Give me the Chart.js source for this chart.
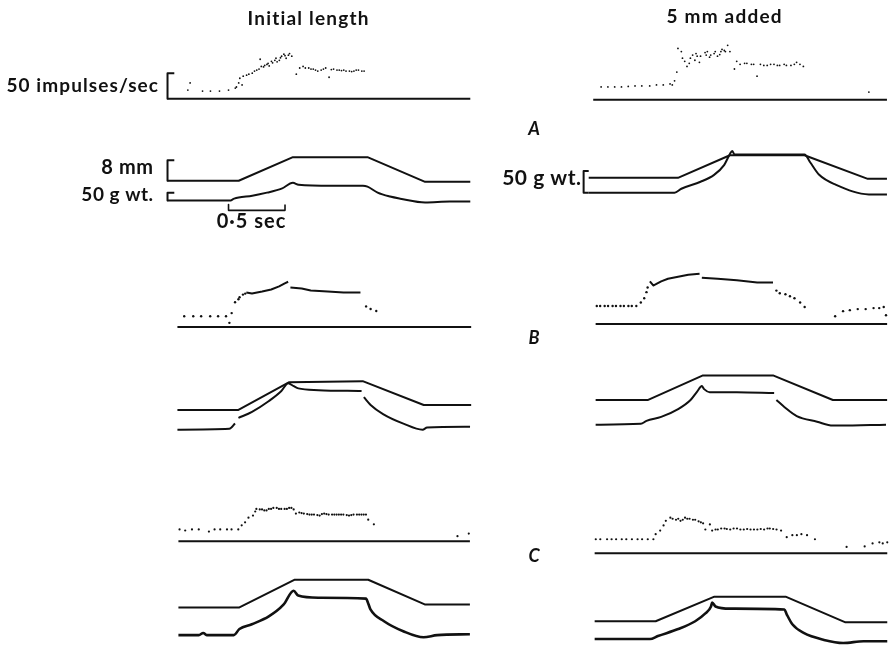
<!DOCTYPE html>
<html>
<head>
<meta charset="utf-8">
<title>Spindle discharge during stretch</title>
<script src="https://cdn.jsdelivr.net/npm/chart.js@4.4.1/dist/chart.umd.min.js"></script>
<style>
  html, body { margin: 0; padding: 0; background: #fff; overflow: hidden; }
  #wrap { position: relative; width: 891px; height: 648px; }
</style>
</head>
<body>
<div id="wrap"><canvas id="records" width="891" height="648"></canvas></div>
<script>
// Each record: [time (s), value]. Discharge in impulses/sec, length in mm,
// tension in g wt. Time runs from the start of each record.

// A, initial length
const aInitRate = [
  [0.18,17],[0.20,31],[0.31,15],[0.38,15],[0.46,15],[0.54,17],[0.60,21],[0.61,23],[0.63,31],[0.64,40],
  [0.66,27],[0.67,44],[0.70,46],[0.72,48],[0.75,50],[0.77,54],[0.79,56],[0.81,58],[0.82,77],[0.83,63],
  [0.85,62],[0.86,65],[0.88,67],[0.89,69],[0.90,64],[0.92,73],[0.93,70],[0.95,75],[0.96,79],[0.97,72],
  [0.99,75],[1.00,80],[1.01,83],[1.03,87],[1.04,84],[1.05,79],[1.07,85],[1.08,88],[1.10,83],
  [1.14,48],[1.17,60],[1.20,63],[1.22,60],[1.25,60],[1.27,58],[1.29,58],[1.31,56],[1.33,54],[1.36,56],
  [1.38,58],[1.40,60],[1.43,42],[1.45,57],[1.47,58],[1.50,56],[1.52,56],[1.54,55],[1.56,56],[1.58,54],
  [1.61,54],[1.63,53],[1.65,54],[1.67,56],[1.69,56],[1.72,54],[1.74,54]
];
const aInitBase = [[0,0],[2.68,0]];
const aInitLength = [[0,0],[0.63,0],[1.11,9.2],[1.77,9.2],[2.28,-0.4],[2.68,-0.4]];
const aInitTension = [
  [0,0],[0.55,0],[0.59,12],[0.63,19],[0.75,31],[0.88,50],[1.01,75],[1.11,112],[1.16,100],[1.45,94],
  [1.73,94],[1.77,88],[1.86,50],[1.97,25],[2.06,12],[2.28,-12],[2.50,-6],[2.68,-6]
];

// A, 5 mm added
const aAddRate = [
  [0.11,25],[0.17,25],[0.23,25],[0.29,25],[0.35,26],[0.41,27],[0.47,27],[0.54,27],[0.60,29],[0.66,29],
  [0.72,31],[0.74,29],[0.76,37],[0.78,54],[0.79,100],[0.82,94],[0.83,81],[0.85,75],[0.87,65],[0.89,71],
  [0.90,81],[0.92,87],[0.94,77],[0.95,90],[0.96,85],[0.98,73],[0.99,85],[1.03,92],[1.04,87],[1.05,94],
  [1.07,83],[1.08,87],[1.11,90],[1.12,94],[1.14,85],[1.16,88],[1.17,94],[1.18,98],[1.20,96],[1.21,94],
  [1.23,106],[1.25,94],
  [1.29,60],[1.31,75],[1.34,69],[1.38,71],[1.40,71],[1.44,69],[1.46,69],[1.49,46],[1.52,69],[1.55,67],
  [1.58,67],[1.61,69],[1.64,69],[1.67,67],[1.69,67],[1.73,69],[1.75,67],[1.79,67],[1.82,69],[1.84,73],
  [1.87,69],[1.90,65],
  [2.48,15]
];
const aAddBase = [[0.04,0],[2.64,0]];
const aAddLength = [[0,0],[0.79,0],[1.25,8.8],[1.91,8.8],[2.47,-0.4],[2.64,-0.4]];
const aAddTension = [
  [0,0],[0.76,0],[0.82,9],[0.99,25],[1.11,41],[1.20,64],[1.25,89],[1.27,96],[1.29,88],[1.91,88],
  [1.96,70],[2.04,41],[2.19,18],[2.48,-4],[2.64,-4]
];

// B, initial length
const bInitRate = [
  [0.06,21],[0.14,21],[0.21,21],[0.29,21],[0.36,21],[0.43,21],[0.46,8],[0.48,27],[0.51,48],[0.54,54],
  [0.55,58],[0.58,63],[0.60,65],[1.67,40],[1.71,35],[1.76,31]
];
const bInitRun = [
  [0.61,67],[0.66,65],[0.75,69],[0.83,73],[0.90,79],[0.95,85],[0.98,88],[0.99,null],[1.00,77],[1.10,75],
  [1.18,71],[1.33,69],[1.47,67],[1.62,67]
];
const bInitBase = [[0,0],[2.60,0]];
const bInitLength = [[0,0],[0.54,0],[0.99,10.8],[1.64,11.2],[2.18,1.9],[2.60,1.9]];
const bInitTension = [
  [0,0],[0.46,2],[0.51,14],[0.52,null],[0.54,27],[0.66,41],[0.81,66],[0.92,89],[0.98,107],[1.03,100],
  [1.07,95],[1.25,91],[1.63,89],[1.64,null],[1.65,75],[1.71,57],[1.82,36],[2.00,14],[2.17,0],[2.21,5],
  [2.59,7]
];

// B, 5 mm added
const bAddRate = [
  [0.01,35],[0.04,35],[0.08,35],[0.11,35],[0.15,35],[0.18,35],[0.22,35],[0.25,35],[0.29,35],[0.32,35],
  [0.36,35],[0.40,42],[0.43,50],[0.45,62],[0.46,71],[1.60,65],[1.63,60],[1.68,58],[1.72,54],[1.76,50],
  [1.81,42],[1.85,33],[2.12,15],[2.19,25],[2.25,27],[2.32,29],[2.39,29],[2.46,31],[2.51,31],[2.55,33],
  [2.57,17]
];
const bAddRun = [
  [0.48,83],[0.51,75],[0.53,77],[0.58,83],[0.64,88],[0.73,92],[0.82,96],[0.92,98],[0.93,null],[0.94,90],
  [1.08,88],[1.25,85],[1.43,81],[1.57,81]
];
const bAddBase = [[0,0],[2.58,0]];
const bAddLength = [[0,0],[0.46,0],[0.95,9.6],[1.57,9.6],[2.10,0],[2.58,0]];
const bAddTension = [
  [0,0],[0.40,2],[0.45,9],[0.58,18],[0.73,36],[0.84,57],[0.90,77],[0.94,89],[0.96,82],[1.01,75],
  [1.25,75],[1.58,73],[1.59,null],[1.60,57],[1.67,41],[1.78,20],[1.96,7],[2.10,-2],[2.16,-2],[2.57,0]
];

// C, initial length
const cInitRate = [
  [0.01,23],[0.06,21],[0.12,23],[0.18,23],[0.27,19],[0.32,23],[0.37,23],[0.43,23],[0.47,23],[0.53,23],
  [0.56,31],[0.59,37],[0.62,46],[0.66,50],[0.68,58],
  [0.69,63],[0.72,62],[0.74,62],[0.76,60],[0.78,60],[0.80,63],[0.82,63],[0.84,65],[0.87,65],[0.89,63],
  [0.91,63],[0.94,63],[0.96,63],[0.98,65],[1.00,65],[1.02,62],
  [1.04,54],[1.07,56],[1.09,55],[1.11,54],[1.14,53],[1.16,52],[1.18,52],[1.20,52],[1.23,51],[1.25,50],
  [1.27,53],[1.29,54],[1.31,53],[1.33,52],[1.36,52],[1.38,52],[1.40,52],[1.42,52],[1.44,52],[1.46,52],
  [1.49,51],[1.51,50],[1.53,51],[1.55,52],[1.58,52],[1.60,52],[1.62,52],[1.64,52],[1.66,52],
  [1.68,42],[1.73,33],[2.47,10],[2.57,15]
];
const cInitBase = [[0,0],[2.58,0]];
const cInitLength = [[0,0],[0.54,0],[1.03,10.8],[1.68,10.8],[2.18,1.2],[2.58,1.2]];
const cInitTension = [
  [0,0],[0.18,0],[0.22,5],[0.25,0],[0.49,0],[0.54,14],[0.65,25],[0.80,43],[0.93,70],[1.02,102],
  [1.06,91],[1.24,86],[1.66,84],[1.68,73],[1.70,59],[1.82,32],[1.99,9],[2.17,-5],[2.29,0],[2.58,2]
];

// C, 5 mm added
const cAddRate = [
  [0.01,27],[0.05,27],[0.11,27],[0.15,27],[0.19,27],[0.24,27],[0.28,27],[0.33,27],[0.38,27],[0.42,27],
  [0.47,27],[0.52,27],[0.54,37],[0.58,44],[0.61,54],[0.63,63],[0.67,69],[0.69,67],[0.72,65],[0.74,67],
  [0.76,63],[0.78,65],[0.80,69],[0.82,67],[0.84,67],[0.87,65],[0.89,65],[0.92,62],[0.94,60],[0.96,58],
  [0.98,46],[1.02,56],[1.04,44],[1.07,46],[1.09,46],[1.12,48],[1.15,48],[1.17,47],[1.20,46],[1.23,48],
  [1.26,48],[1.29,46],[1.32,46],[1.35,47],[1.38,46],[1.41,46],[1.44,46],[1.47,47],[1.50,46],[1.53,48],
  [1.55,48],[1.58,47],[1.61,46],[1.65,44],[1.70,31],[1.75,35],[1.79,35],[1.83,37],[1.88,35],[1.95,27],
  [2.23,12],[2.39,13],[2.46,19],[2.52,21],[2.55,19],[2.59,21]
];
const cAddBase = [[0,0],[2.59,0]];
const cAddLength = [[0,0],[0.54,0],[1.06,9.6],[1.69,9.6],[2.22,-0.4],[2.59,-0.4]];
const cAddTension = [
  [0,0],[0.49,0],[0.56,7],[0.74,23],[0.89,41],[0.98,59],[1.03,75],[1.04,84],[1.07,75],[1.20,70],
  [1.68,68],[1.70,57],[1.75,34],[1.85,14],[2.03,-2],[2.20,-9],[2.38,-5],[2.59,-5]
];

// calibration marks: 50 impulses/sec, 8 mm, 50 g wt., 0.5 sec
const calRate = [[0.06,50],[0,50],[0,0]];
const calLength = [[0.06,8],[0,8],[0,0]];
const calTension = [[0.06,50],[0,50],[0,0]];
const calTensionAdded = [[0,50],[-0.045,50],[-0.045,0],[0,0]];
const calTime = [[0.54,-25],[0.54,-62],[1.04,-62],[1.04,-25]];

// ---- layout ----
const W = 891, H = 648;
const INK = '#111';
const PX_PER_SEC = 114;
const PX_PER_IMP = 0.52;
const PX_PER_MM = 2.6;

const panels = [
  { key: 'aInit', left: 165, rateY: 96,  lengthY: 179, tensionY: 199, gPx: 0.16,
    rate: aInitRate, base: aInitBase, length: aInitLength, tension: aInitTension, dot: 0.9,
    cal: { rate: calRate, length: calLength, tension: calTension, time: calTime } },
  { key: 'aAdd',  left: 590, rateY: 97,  lengthY: 176, tensionY: 191, gPx: 0.44,
    rate: aAddRate, base: aAddBase, length: aAddLength, tension: aAddTension, dot: 0.9,
    cal: { tension: calTensionAdded } },
  { key: 'bInit', left: 175, rateY: 327, lengthY: 411, tensionY: 431, gPx: 0.44,
    rate: bInitRate, run: bInitRun, base: bInitBase, length: bInitLength, tension: bInitTension, dot: 1.2 },
  { key: 'bAdd',  left: 597, rateY: 324, lengthY: 401, tensionY: 426, gPx: 0.44,
    rate: bAddRate, run: bAddRun, base: bAddBase, length: bAddLength, tension: bAddTension, dot: 1.2 },
  { key: 'cInit', left: 176, rateY: 544, lengthY: 611, tensionY: 639, gPx: 0.44,
    rate: cInitRate, base: cInitBase, length: cInitLength, tension: cInitTension, dot: 1.1, heavy: true },
  { key: 'cAdd',  left: 596, rateY: 556, lengthY: 625, tensionY: 643, gPx: 0.44,
    rate: cAddRate, base: cAddBase, length: cAddLength, tension: cAddTension, dot: 1.1, heavy: true }
];

const FONT = '"Lato", "Open Sans", sans-serif';
const labels = [
  { text: 'Initial length', x: 308, y: 25, align: 'center', size: 19, spacing: 1.2 },
  { text: '5 mm added', x: 724, y: 23, align: 'center', size: 19, spacing: 1.2 },
  { text: '50 impulses/sec', x: 158, y: 92, align: 'right', size: 19, spacing: 1.1 },
  { text: '8 mm', x: 153, y: 174, align: 'right', size: 20, spacing: 0.6 },
  { text: '50 g wt.', x: 153, y: 201, align: 'right', size: 19, spacing: 0.5 },
  { text: '0·5 sec', x: 251, y: 228, align: 'center', size: 20, spacing: 1 },
  { text: '50 g wt.', x: 581, y: 185, align: 'right', size: 21, spacing: 0.5 },
  { text: 'A', x: 534, y: 135, align: 'center', size: 18, spacing: 0, italic: true },
  { text: 'B', x: 534, y: 344, align: 'center', size: 18, spacing: 0, italic: true },
  { text: 'C', x: 534, y: 562, align: 'center', size: 18, spacing: 0, italic: true }
];

// a hidden linear axis whose zero sits at pixel `zero` with `gain` px per unit
function vAxis(zero, gain) {
  return { type: 'linear', axis: 'y', position: 'left', display: false,
           min: -(H - zero) / gain, max: zero / gain };
}
function hAxis(left) {
  return { type: 'linear', axis: 'x', position: 'bottom', display: false,
           min: -left / PX_PER_SEC, max: (W - left) / PX_PER_SEC };
}

const toXY = arr => arr.map(([x, y]) => ({ x, y }));

function line(data, xID, yID, width, smooth) {
  return {
    data: toXY(data), xAxisID: xID, yAxisID: yID, showLine: true,
    borderColor: INK, borderWidth: width, pointRadius: 0, fill: false,
    clip: false, spanGaps: false, tension: 0,
    cubicInterpolationMode: smooth ? 'monotone' : 'default',
    borderCapStyle: 'butt', borderJoinStyle: 'round'
  };
}
function dots(data, xID, yID, r) {
  return {
    data: toXY(data), xAxisID: xID, yAxisID: yID, showLine: false,
    pointRadius: r, pointBackgroundColor: INK, pointBorderWidth: 0, clip: false
  };
}

const scales = {};
const datasets = [];
for (const p of panels) {
  const x = p.key + 'X', yr = p.key + 'Rate', yl = p.key + 'Len', yt = p.key + 'Ten';
  scales[x] = hAxis(p.left);
  scales[yr] = vAxis(p.rateY, PX_PER_IMP);
  scales[yl] = vAxis(p.lengthY, PX_PER_MM);
  scales[yt] = vAxis(p.tensionY, p.gPx);

  datasets.push(line(p.base, x, yr, 2, false));
  datasets.push(dots(p.rate, x, yr, p.dot));
  if (p.run) datasets.push(line(p.run, x, yr, 2, false));
  datasets.push(line(p.length, x, yl, 2, false));
  datasets.push(line(p.tension, x, yt, p.heavy ? 2.6 : 2, true));

  if (p.cal) {
    if (p.cal.rate) datasets.push(line(p.cal.rate, x, yr, 2, false));
    if (p.cal.length) datasets.push(line(p.cal.length, x, yl, 2, false));
    if (p.cal.tension) datasets.push(line(p.cal.tension, x, yt, 2, false));
    if (p.cal.time) datasets.push(line(p.cal.time, x, yt, 1.6, false));
  }
}

const labelPlugin = {
  id: 'figureLabels',
  afterDraw(chart) {
    const ctx = chart.ctx;
    ctx.save();
    ctx.fillStyle = INK;
    ctx.textBaseline = 'alphabetic';
    for (const l of labels) {
      ctx.font = `${l.italic ? 'italic ' : ''}bold ${l.size}px ${FONT}`;
      ctx.letterSpacing = l.spacing + 'px';
      ctx.textAlign = l.align;
      // letter spacing adds trailing space after the last glyph; shift it back
      const shift = l.align === 'right' ? l.spacing : l.align === 'center' ? l.spacing / 2 : 0;
      ctx.fillText(l.text, l.x + shift, l.y);
    }
    ctx.restore();
  }
};

new Chart(document.getElementById('records'), {
  type: 'scatter',
  data: { datasets },
  options: {
    responsive: false,
    animation: false,
    events: [],
    layout: { padding: 0 },
    scales,
    plugins: { legend: { display: false }, tooltip: { enabled: false }, title: { display: false } }
  },
  plugins: [labelPlugin]
});
</script>
</body>
</html>
